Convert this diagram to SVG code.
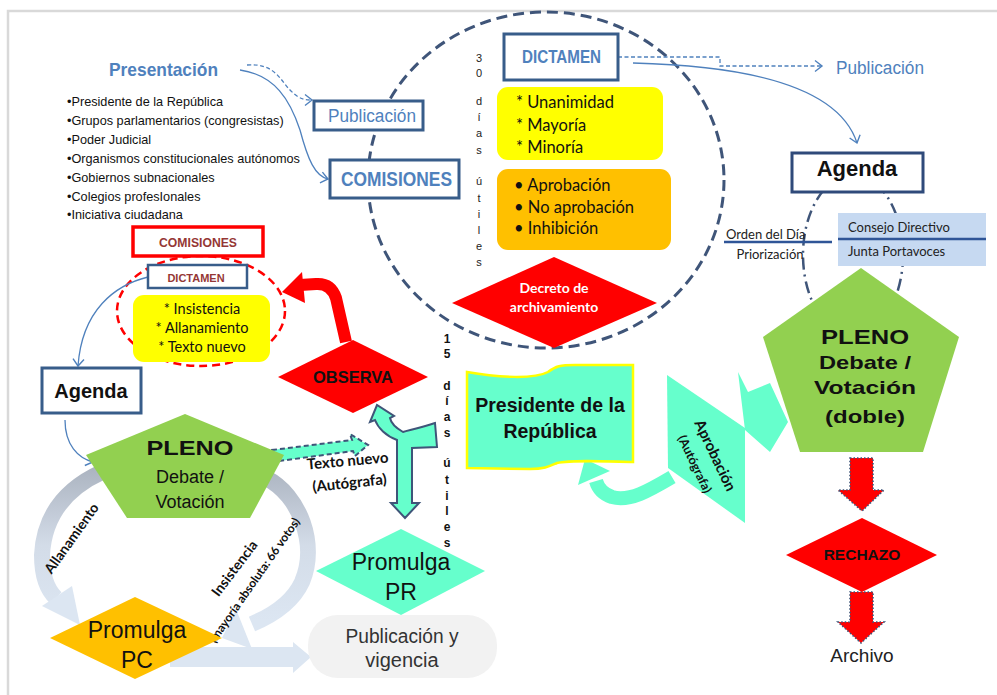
<svg xmlns="http://www.w3.org/2000/svg" width="997" height="695" viewBox="0 0 997 695">
<style>
.sans{font-family:"Liberation Sans",Arial,sans-serif}
.cal{font-family:Lato,"Open Sans",sans-serif}
.b{font-weight:bold}
.mid{text-anchor:middle}
.blue{fill:#4F81BD}
.box{fill:#fff;stroke:#385D8A;stroke-width:3}
.thin{fill:none;stroke:#4F81BD;stroke-width:1.3}
.teal{fill:#66FFCC}
.dred{fill:#953735}
.redarrow{fill:#FF0000;stroke:#3F5579;stroke-width:1.6;stroke-dasharray:1.5 2}
</style>
<defs>
<marker id="chev" markerWidth="14" markerHeight="14" refX="10" refY="7" orient="auto" markerUnits="userSpaceOnUse">
<path d="M3,1.5 L10,7 L3,12.5" fill="none" stroke="#4F81BD" stroke-width="1.4"/>
</marker>
<linearGradient id="ring" x1="0" y1="455" x2="0" y2="620" gradientUnits="userSpaceOnUse">
<stop offset="0" stop-color="#A5ADBA"/>
<stop offset="0.55" stop-color="#D3DCE8"/>
<stop offset="1" stop-color="#DCE6F2"/>
</linearGradient>
</defs>

<!-- frame -->
<path d="M8,695 V11 H997" fill="none" stroke="#D9D9D9" stroke-width="2.5"/>

<!-- dashed scopes -->
<ellipse cx="546" cy="180" rx="178" ry="168" fill="none" stroke="#3F5579" stroke-width="3" stroke-dasharray="11 6"/>
<ellipse cx="853" cy="255" rx="50" ry="80" fill="none" stroke="#3F5579" stroke-width="2.5" stroke-dasharray="12 5 2 5"/>
<ellipse cx="201" cy="311" rx="84" ry="55" fill="none" stroke="#FF0000" stroke-width="2.5" stroke-dasharray="8 5"/>

<!-- connectors -->
<g id="connectors">
<path class="thin" d="M247,65 C275,63 280,80 290,90 S305,100 312,100" stroke-dasharray="4 2.5" marker-end="url(#chev)"/>
<path class="thin" d="M240,70 C275,75 290,100 300,130 C308,160 315,176 328,179" marker-end="url(#chev)"/>
<path class="thin" d="M618,57 H720 V66 H822" stroke-dasharray="4 2.5" marker-end="url(#chev)"/>
<path class="thin" d="M633,63 C760,66 840,90 857,143" marker-end="url(#chev)"/>
<path class="thin" d="M148,277 C115,285 82,310 78,366" marker-end="url(#chev)"/>
<path class="thin" d="M65,420 C65,445 78,458 93,462" marker-end="url(#chev)"/>
<line x1="724" y1="242" x2="832" y2="242" stroke="#2F5597" stroke-width="2.5"/>

<!-- allanamiento / insistencia ring -->
<path d="M102,472 Q45,498 42,555 Q42,585 56,598" fill="none" stroke="url(#ring)" stroke-width="16"/>
<polygon points="42,606 72,586 80,625" fill="#DCE6F2"/>
<path d="M266,478 C300,495 318,545 302,582 Q290,608 252,624" fill="none" stroke="url(#ring)" stroke-width="16"/>
<polygon points="236,609 252,649 222,638" fill="#DCE6F2"/>
<polygon points="170,647 293,647 293,642 311,657 293,673 293,667 170,667" fill="#DCE6F2"/>

<!-- observa back to comisiones -->
<path d="M346,342 L336,298 Q331,283 316,284 L300,285" fill="none" stroke="#FF0000" stroke-width="12"/>
<polygon points="302,272 282,292 305,303" fill="#FF0000"/>

<!-- texto nuevo -->
<path d="M272,450 L352,440 L350,434 L368,445 L355,456 L353,451 L272,462 Z" class="teal" stroke="#3F5579" stroke-width="2" stroke-dasharray="5 3"/>

<!-- presidente split arrow -->
<path d="M435,423 C420,428 410,430 403,432 C396,428 391,423 390,418 L394,416 L377,405 L370,422 L375,420 C378,428 386,436 397,440 L397,503 L391,503 L405,518 L419,503 L412,503 L412,448 L437,447 Z" class="teal" stroke="#3F5579" stroke-width="2"/>

<!-- aprobación -->
<polygon points="667,375 745,428 745,523 668,468" class="teal"/>
<polygon points="738,372 748,392 770,383 788,422 770,452 745,430" class="teal"/>
<path d="M672,477 C650,490 630,502 612,497 C603,494 598,488 596,481" fill="none" stroke="#66FFCC" stroke-width="14"/>
<polygon points="578,485 585,459 610,471" class="teal"/>

<!-- pleno to archivo -->
<path class="redarrow" d="M850,458 H873 V490 H884 L862,511 L838,490 H850 Z"/>
<path class="redarrow" d="M850,592 H873 V622 H884 L861,643 L838,622 H850 Z"/>
</g>

<!-- presentación -->
<g id="presentacion" class="sans">
<text x="109" y="76" class="b blue" font-size="19" textLength="109" lengthAdjust="spacingAndGlyphs">Presentación</text>
<g font-size="12.7" fill="#111">
<text x="67" y="106">•Presidente de la República</text>
<text x="67" y="125">•Grupos parlamentarios (congresistas)</text>
<text x="67" y="144">•Poder Judicial</text>
<text x="67" y="163">•Organismos constitucionales autónomos</text>
<text x="67" y="182">•Gobiernos subnacionales</text>
<text x="67" y="201">•Colegios profesIonales</text>
<text x="67" y="219">•Iniciativa ciudadana</text>
</g>
</g>

<g id="publicacion1">
<rect x="314" y="101" width="109" height="29" class="box"/>
<text x="328" y="122" class="sans blue" font-size="18" textLength="88" lengthAdjust="spacingAndGlyphs">Publicación</text>
</g>

<g id="comisiones1">
<rect x="330" y="160" width="129" height="38" class="box"/>
<text x="341" y="186" class="sans b blue" font-size="21" textLength="111" lengthAdjust="spacingAndGlyphs">COMISIONES</text>
</g>

<g id="dictamen1">
<rect x="504" y="34" width="114" height="46" class="box"/>
<text x="522" y="63" class="sans b blue" font-size="18" textLength="79" lengthAdjust="spacingAndGlyphs">DICTAMEN</text>
</g>

<g id="votos" class="cal" font-size="16.5" fill="#111">
<rect x="497" y="87" width="166" height="73" rx="11" fill="#FFFF00"/>
<text x="516" y="108">* Unanimidad</text>
<text x="516" y="131">* Mayoría</text>
<text x="516" y="153">* Minoría</text>
</g>

<g id="resultado" class="cal" font-size="16.5" fill="#111">
<rect x="497" y="169" width="174" height="81" rx="11" fill="#FFC000"/>
<text x="514" y="191">• Aprobación</text>
<text x="514" y="213">• No aprobación</text>
<text x="514" y="234">• Inhibición</text>
</g>

<g id="decreto">
<polygon points="452,303 554,257 657,303 554,348" fill="#FF0000"/>
<text class="cal b mid" font-size="14" fill="#fff"><tspan x="554" y="293">Decreto de</tspan><tspan x="554" y="312">archivamiento</tspan></text>
</g>

<g id="plazo30" class="sans mid" font-size="11" fill="#222">
<text x="479" y="62">3</text><text x="479" y="77">0</text>
<text x="479" y="105">d</text><text x="479" y="121">í</text><text x="479" y="137">a</text><text x="479" y="154">s</text>
<text x="479" y="185">ú</text><text x="479" y="202">t</text><text x="479" y="218">i</text><text x="479" y="234">l</text><text x="479" y="250">e</text><text x="479" y="266">s</text>
</g>

<g id="publicacion2">
<text x="836" y="74" class="sans blue" font-size="18" textLength="88" lengthAdjust="spacingAndGlyphs">Publicación</text>
</g>

<g id="agenda1">
<rect x="792" y="153" width="131" height="39" fill="#fff" stroke="#2F4A7A" stroke-width="3"/>
<text x="857" y="176" class="sans b mid" font-size="22" fill="#111">Agenda</text>
</g>

<g id="orden" class="cal" font-size="13" fill="#222">
<text x="726" y="239">Orden del Día</text>
<text x="770" y="259" class="mid">Priorización</text>
</g>

<g id="consejo" class="cal" font-size="13" fill="#222">
<rect x="838" y="213" width="148" height="53" fill="#C6D9F1"/>
<line x1="838" y1="239" x2="986" y2="239" stroke="#2F5597" stroke-width="2.5"/>
<text x="848" y="232">Consejo Directivo</text>
<text x="848" y="256">Junta Portavoces</text>
</g>

<g id="pleno2" class="sans b mid" fill="#111">
<polygon points="861,268 959,337 923,452 800,452 763,337" fill="#92D050"/>
<text x="865" y="344" font-size="21" textLength="88" lengthAdjust="spacingAndGlyphs">PLENO</text>
<text x="865" y="369" font-size="19" textLength="92" lengthAdjust="spacingAndGlyphs">Debate /</text>
<text x="865" y="394" font-size="19" textLength="102" lengthAdjust="spacingAndGlyphs">Votación</text>
<text x="865" y="423" font-size="19" textLength="80" lengthAdjust="spacingAndGlyphs">(doble)</text>
</g>

<g id="rechazo">
<polygon points="786,555 862,518 937,555 862,592" fill="#FF0000"/>
<text x="862" y="560" class="sans b mid" font-size="15.5" fill="#111">RECHAZO</text>
</g>

<g id="archivo">
<text x="862" y="662" class="sans mid" font-size="19" fill="#222">Archivo</text>
</g>

<g id="comisiones2">
<rect x="133" y="227" width="130" height="29" fill="#fff" stroke="#FF0000" stroke-width="3.5"/>
<text x="198" y="247" class="sans b mid dred" font-size="12.2">COMISIONES</text>
</g>

<g id="dictamen2">
<rect x="148" y="265" width="99" height="23" fill="#fff" stroke="#385D8A" stroke-width="2.5"/>
<text x="196" y="282" class="sans b mid dred" font-size="11">DICTAMEN</text>
</g>

<g id="observaciones" class="cal mid" font-size="14.5" fill="#111">
<rect x="133" y="295" width="137" height="67" rx="11" fill="#FFFF00"/>
<text x="202" y="314">* Insistencia</text>
<text x="202" y="333">* Allanamiento</text>
<text x="202" y="352">* Texto nuevo</text>
</g>

<g id="observa">
<polygon points="278,377 353,340 428,377 353,413" fill="#FF0000"/>
<text x="353" y="383" class="sans b mid" font-size="16.5" fill="#111">OBSERVA</text>
</g>

<g id="plazo15" class="sans b mid" font-size="12" fill="#111">
<text x="447" y="343">1</text><text x="447" y="358">5</text>
<text x="447" y="390">d</text><text x="447" y="405">í</text><text x="447" y="421">a</text><text x="447" y="437">s</text>
<text x="447" y="467">ú</text><text x="447" y="484">t</text><text x="447" y="500">i</text><text x="447" y="515">l</text><text x="447" y="531">e</text><text x="447" y="547">s</text>
</g>

<g id="presidente">
<path d="M467,372 C500,378 535,379 548,372 C556,366 560,365 575,365 L633,365 L633,462 C600,461 570,460 557,463 C550,466 545,469 530,469 L467,468 Z" class="teal" stroke="#FFFF00" stroke-width="2.5"/>
<text class="sans b mid" font-size="19.5" fill="#111"><tspan x="550" y="412">Presidente de la</tspan><tspan x="550" y="438">República</tspan></text>
</g>

<g id="aprobacion-label" class="cal b mid" fill="#111">
<text transform="translate(716,455) rotate(64.5)" font-size="15" dominant-baseline="central">Aprobación</text>
<text transform="translate(695,464) rotate(64.5)" font-size="12.5" dominant-baseline="central">(Autógrafa)</text>
</g>

<g id="agenda2">
<rect x="42" y="368" width="99" height="45" fill="#fff" stroke="#385D8A" stroke-width="3"/>
<text x="91" y="398" class="sans b mid" font-size="20" fill="#111">Agenda</text>
</g>

<g id="pleno1" class="sans mid" fill="#111">
<polygon points="185,414 284,455 250,518 127,518 86,455" fill="#92D050"/>
<text x="190" y="455" class="b" font-size="21" textLength="87" lengthAdjust="spacingAndGlyphs">PLENO</text>
<text x="190" y="483" font-size="18">Debate /</text>
<text x="190" y="508" font-size="18">Votación</text>
</g>

<g id="ring-labels" class="cal b mid" fill="#111">
<text transform="translate(71,538) rotate(-54.5)" font-size="14" dominant-baseline="central">Allanamiento</text>
<text transform="translate(234,568) rotate(-53)" font-size="14" dominant-baseline="central">Insistencia</text>
<text transform="translate(254,580) rotate(-55)" font-size="12" dominant-baseline="central">(mayoría absoluta: 66 votos)</text>
</g>

<g id="texto-nuevo" class="cal b mid" fill="#111" font-size="15">
<text transform="translate(348,466) rotate(-5)">Texto nuevo</text>
<text transform="translate(350,488) rotate(-6)">(Autógrafa)</text>
</g>

<g id="promulga-pc">
<polygon points="50,638 135,597 222,638 135,679" fill="#FFC000"/>
<text class="sans mid" font-size="23" fill="#111"><tspan x="137" y="638">Promulga</tspan><tspan x="137" y="668">PC</tspan></text>
</g>

<g id="promulga-pr">
<polygon points="316,571 401,529 485,571 401,615" class="teal"/>
<text class="sans mid" font-size="23" fill="#111"><tspan x="401" y="570">Promulga</tspan><tspan x="401" y="600">PR</tspan></text>
</g>

<g id="vigencia">
<rect x="308" y="615" width="189" height="63" rx="30" fill="#F2F2F2"/>
<text class="sans mid" font-size="20" fill="#333"><tspan x="402" y="643" textLength="113" lengthAdjust="spacingAndGlyphs">Publicación y</tspan><tspan x="402" y="667">vigencia</tspan></text>
</g>
</svg>
